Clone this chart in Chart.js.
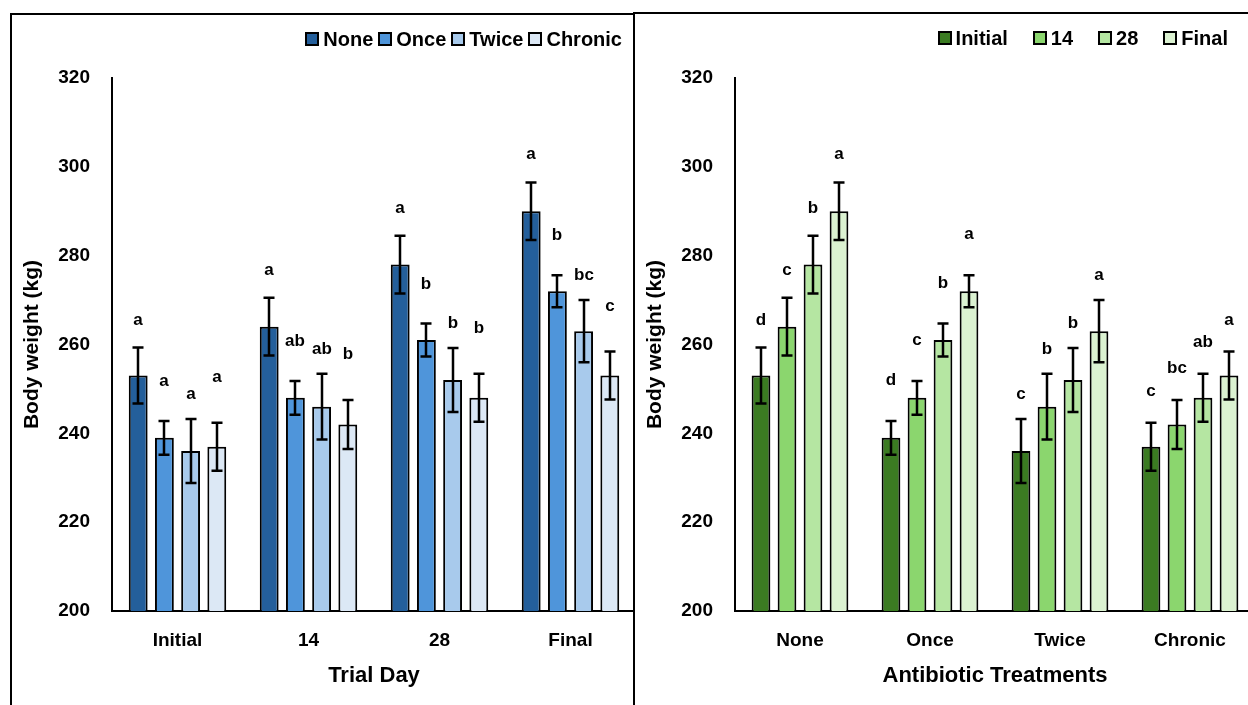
<!DOCTYPE html>
<html>
<head>
<meta charset="utf-8">
<script src="https://cdn.jsdelivr.net/npm/chart.js@4.4.1/dist/chart.umd.min.js"></script>
<style>
  html, body { margin:0; padding:0; background:#fff; width:1248px; height:705px; overflow:hidden; }
  .panel { position:absolute; background:#fff; overflow:hidden; box-sizing:content-box; }
  #p1 { left:10px; top:13px; width:621px; height:700px; border-left:2px solid #000; border-top:2px solid #000; border-right:2px solid #000; }
  #p2 { left:633px; top:12px; width:700px; height:700px; border-left:2px solid #000; border-top:2px solid #000; }
  canvas { position:absolute; left:0; top:0; }
  .legend { position:absolute; display:flex; align-items:center; font-family:"Liberation Sans", Arial, sans-serif; font-weight:bold; font-size:20px; color:#000; white-space:nowrap; }
  .legend .item { display:flex; align-items:center; }
  .legend .sw { width:10px; height:10px; border:2px solid #000; margin-right:4px; }
</style>
</head>
<body>
<div class="panel" id="p1"><canvas id="c1" width="624" height="690"></canvas><div class="legend" id="lg1"></div></div>
<div class="panel" id="p2"><canvas id="c2" width="620" height="691"></canvas><div class="legend" id="lg2"></div></div>
<script>
// ---------- data ----------
const trialDays = ['Initial', '14', '28', 'Final'];
const treatments = ['None', 'Once', 'Twice', 'Chronic'];
const yTicks = [200, 220, 240, 260, 280, 300, 320];

// body weight (kg) per treatment, over trial days
const noneWeight    = [253, 264, 278, 290];
const onceWeight    = [239, 248, 261, 272];
const twiceWeight   = [236, 246, 252, 263];
const chronicWeight = [237, 242, 248, 253];

// error bar half-lengths (kg)
const noneErr    = [6.3, 6.5, 6.5, 6.5];
const onceErr    = [3.8, 3.8, 3.7, 3.6];
const twiceErr   = [7.2, 7.4, 7.2, 7.0];
const chronicErr = [5.4, 5.5, 5.4, 5.4];

// significance letters, left chart (treatments compared within each day)
const noneLettersL    = ['a', 'a', 'a', 'a'];
const onceLettersL    = ['a', 'ab', 'b', 'b'];
const twiceLettersL   = ['a', 'ab', 'b', 'bc'];
const chronicLettersL = ['a', 'b', 'b', 'c'];

// significance letters, right chart (days compared within each treatment)
const initialLettersR = ['d', 'd', 'c', 'c'];
const day14LettersR   = ['c', 'c', 'b', 'bc'];
const day28LettersR   = ['b', 'b', 'b', 'ab'];
const finalLettersR   = ['a', 'a', 'a', 'a'];

// ---------- styles ----------
const blueColors  = ['#245F9B', '#4F95DA', '#A8CAEC', '#DCE8F5'];
const greenColors = ['#3B7B22', '#8BD66E', '#B5E6A2', '#DBF2D1'];
const FONT = '"Liberation Sans", Arial, sans-serif';

const weights = [noneWeight, onceWeight, twiceWeight, chronicWeight];
const errs = [noneErr, onceErr, twiceErr, chronicErr];

// transpose helper
const byDay = (arr2d) => trialDays.map((_, d) => treatments.map((_, t) => arr2d[t][d]));

const errPlugin = {
  id: 'errLetters',
  afterDatasetsDraw(chart, args, opts) {
    const ctx = chart.ctx;
    const ys = chart.scales.y;
    ctx.save();
    chart.data.datasets.forEach((ds, di) => {
      const meta = chart.getDatasetMeta(di);
      meta.data.forEach((bar, i) => {
        const v = ds.data[i];
        const e = opts.errors[di][i];
        const yt = ys.getPixelForValue(v + e);
        const yb = ys.getPixelForValue(v - e);
        const x = Math.round(bar.x);
        ctx.strokeStyle = '#000';
        ctx.lineWidth = 2.5;
        ctx.lineCap = 'butt';
        ctx.beginPath();
        ctx.moveTo(x, yt); ctx.lineTo(x, yb);
        ctx.moveTo(x - 5.5, yt); ctx.lineTo(x + 5.5, yt);
        ctx.moveTo(x - 5.5, yb); ctx.lineTo(x + 5.5, yb);
        ctx.stroke();
        ctx.fillStyle = '#000';
        ctx.font = 'bold 17px ' + FONT;
        ctx.textAlign = 'center';
        ctx.textBaseline = 'alphabetic';
        ctx.fillText(opts.letters[di][i], x, yt - opts.offset(di, i));
      });
    });
    ctx.restore();
  }
};

function makeChart(canvasId, labels, seriesNames, seriesData, colors, errors, letters, offsetFn, xTitle, padTop, yWidth, xHeight) {
  return new Chart(document.getElementById(canvasId), {
    type: 'bar',
    data: {
      labels: labels,
      datasets: seriesNames.map((n, i) => ({
        label: n,
        data: seriesData[i],
        backgroundColor: colors[i],
        borderColor: '#000',
        borderWidth: 2,
        categoryPercentage: 0.8,
        barPercentage: 0.72
      }))
    },
    options: {
      responsive: false,
      animation: false,
      devicePixelRatio: 1,
      layout: { padding: { top: padTop, left: 0, right: 0, bottom: 0 } },
      plugins: {
        legend: { display: false },
        tooltip: { enabled: false },
        errLetters: { errors: errors, letters: letters, offset: offsetFn }
      },
      scales: {
        x: {
          grid: { display: false, drawTicks: false },
          border: { display: true, color: '#000', width: 2 },
          ticks: { color: '#000', font: { family: FONT, size: 19, weight: 'bold' }, padding: 18 },
          title: { display: true, text: xTitle, color: '#000', font: { family: FONT, size: 22, weight: 'bold' }, padding: { top: 0, bottom: 16 } },
          afterFit(s) { s.height = xHeight; }
        },
        y: {
          min: 200, max: 320,
          afterBuildTicks(s) { s.ticks = yTicks.map(v => ({ value: v })); },
          grid: { display: false, drawTicks: false },
          border: { display: true, color: '#000', width: 2 },
          ticks: { color: '#000', font: { family: FONT, size: 19, weight: 'bold' }, padding: 22 },
          title: { display: true, text: 'Body weight (kg)', color: '#000', font: { family: FONT, size: 21, weight: 'bold' }, padding: { top: 8, bottom: 0 } },
          afterFit(s) { s.width = yWidth; }
        }
      }
    },
    plugins: [errPlugin]
  });
}

// left chart: groups = trial days, series = treatments
const leftOffsets = [23, 35, 20, 41];
makeChart('c1', trialDays, treatments, weights, blueColors, errs,
  [noneLettersL, onceLettersL, twiceLettersL, chronicLettersL],
  (di, i) => leftOffsets[di], 'Trial Day', 63, 100, 94);

// right chart: groups = treatments, series = trial days
const rightOffsets = [23, 36, 20, 27];
makeChart('c2', treatments, trialDays, byDay(weights), greenColors, byDay(errs),
  [initialLettersR, day14LettersR, day28LettersR, finalLettersR],
  (di, i) => rightOffsets[i], 'Antibiotic Treatments', 64, 100, 94);

// legends
function buildLegend(id, names, colors, gap, rightEdge, centerY) {
  const el = document.getElementById(id);
  names.forEach((n, i) => {
    const it = document.createElement('div');
    it.className = 'item';
    if (i > 0) it.style.marginLeft = gap + 'px';
    const sw = document.createElement('div');
    sw.className = 'sw';
    sw.style.background = colors[i];
    const tx = document.createElement('span');
    tx.textContent = n;
    it.appendChild(sw); it.appendChild(tx);
    el.appendChild(it);
  });
  const r = el.getBoundingClientRect();
  el.style.left = (rightEdge - r.width) + 'px';
  el.style.top = (centerY - r.height / 2) + 'px';
}
// positions relative to panel content boxes
buildLegend('lg1', treatments, blueColors, 5, 622 - 12, 39 - 15);
buildLegend('lg2', trialDays, greenColors, 25, 1228 - 635, 38 - 14);
</script>
</body>
</html>
